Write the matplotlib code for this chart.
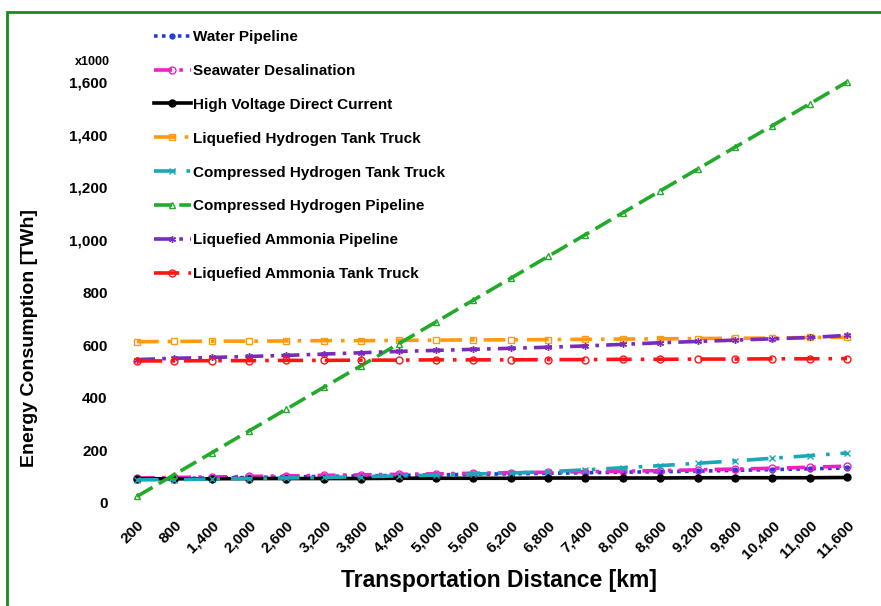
import matplotlib.pyplot as plt
from matplotlib.patches import Rectangle
from matplotlib.ticker import FuncFormatter

plt.rcParams['font.family'] = ['Liberation Sans', 'DejaVu Sans']
plt.rcParams['font.weight'] = 'bold'

# transportation distance [km]
distance = [200, 800, 1400, 2000, 2600, 3200, 3800, 4400, 5000, 5600,
            6200, 6800, 7400, 8000, 8600, 9200, 9800, 10400, 11000, 11600]

# energy consumption [TWh x1000]
water_pipeline = [92, 93, 95, 97, 99, 101, 103, 105, 107, 109,
                  111, 113, 115, 117, 119, 121, 124, 127, 130, 133]
seawater_desal = [95, 97, 99, 101, 103, 105, 107, 109, 111, 113,
                  115, 117, 119, 121, 123, 126, 129, 132, 136, 140]
hvdc = [92, 92, 92, 93, 93, 93, 93, 94, 94, 94,
        94, 95, 95, 95, 95, 96, 96, 96, 96, 97]
lh2_truck = [613, 614, 615, 615, 616, 617, 617, 618, 619, 620,
             620, 621, 622, 623, 624, 625, 626, 627, 629, 630]
ch2_truck = [88, 89, 91, 93, 95, 97, 100, 103, 106, 110,
             114, 119, 126, 134, 142, 151, 160, 170, 180, 190]
ch2_pipeline = [25, 108, 191, 274, 357, 440, 522, 605, 688, 771,
                854, 937, 1020, 1103, 1186, 1269, 1352, 1434, 1517, 1600]
lnh3_pipeline = [545, 550, 553, 557, 561, 566, 571, 576, 580, 584,
                 588, 592, 597, 603, 609, 614, 619, 624, 629, 637]
lnh3_truck = [540, 540, 541, 541, 542, 542, 543, 543, 544, 544,
              544, 545, 545, 546, 546, 547, 547, 548, 548, 549]

series = [
    ("Water Pipeline", water_pipeline, "#1f3fe0", (0, (1, 1.2)), "o", 'full'),
    ("Seawater Desalination", seawater_desal, "#f020c8", (0, (5, 2, 1, 2)), "o", 'none'),
    ("High Voltage Direct Current", hvdc, "#000000", "-", "o", 'full'),
    ("Liquefied Hydrogen Tank Truck", lh2_truck, "#ff9a10", (0, (6, 2.5, 1, 2.5)), "s", 'none'),
    ("Compressed Hydrogen Tank Truck", ch2_truck, "#18a8b8", (0, (6, 3, 1, 3)), "x", 'full'),
    ("Compressed Hydrogen Pipeline", ch2_pipeline, "#22aa2a", (0, (5, 2)), "^", 'none'),
    ("Liquefied Ammonia Pipeline", lnh3_pipeline, "#7a2cb8", (0, (5, 2, 1, 2)), (6, 2, 0), 'full'),
    ("Liquefied Ammonia Tank Truck", lnh3_truck, "#ff1414", (0, (7, 2.5, 1, 2.5)), "o", 'none'),
]

fig = plt.figure(figsize=(8.81, 6.06), dpi=100)
fig.patch.set_facecolor('white')

# green frame (cut off at right and bottom like the source)
fig.patches.append(Rectangle((7 / 881, -0.05), 1.2, 0.05 + (606 - 12) / 606,
                             transform=fig.transFigure, fill=False,
                             edgecolor='#1a8c1a', linewidth=2))

ax = fig.add_axes([127 / 881, 103 / 606, 730 / 881, 421 / 606])

handles = []
for label, vals, color, ls, marker, fill in series:
    ms = 5
    if label == "Water Pipeline":
        ms = 3.5
    h, = ax.plot(distance, vals, color=color, linestyle=ls, linewidth=2.6,
                 marker=marker, markersize=ms, fillstyle=fill,
                 markeredgewidth=1.0, label=label, clip_on=False,
                 dash_capstyle='butt')
    handles.append(h)

ax.set_xlim(40, 11760)
ax.set_ylim(0, 1600)
ax.set_xticks(distance)
ax.set_yticks(range(0, 1601, 200))
ax.xaxis.set_major_formatter(FuncFormatter(lambda v, p: f"{int(v):,}"))
ax.yaxis.set_major_formatter(FuncFormatter(lambda v, p: f"{int(v):,}"))
for s in ax.spines.values():
    s.set_visible(False)
ax.tick_params(axis='both', length=0, labelsize=11)
ax.tick_params(axis='y', pad=14)
ax.tick_params(axis='x', pad=11)
for t in ax.get_xticklabels():
    t.set_rotation(45)
    t.set_ha('right')
    t.set_va('top')
    t.set_rotation_mode('anchor')
    t.set_fontweight('bold')
for t in ax.get_yticklabels():
    t.set_fontweight('bold')

ax.set_xlabel("Transportation Distance [km]", fontsize=16.5, fontweight='bold')
ax.xaxis.set_label_coords((499 - 127) / 730, -(581 - 503) / 421)
ax.xaxis.label.set_va('center')
fig.text(30 / 881, 1 - 338 / 606, "Energy Consumption [TWh]", rotation=90,
         fontsize=14, fontweight='bold', ha='center', va='center')
fig.text(110 / 881, 1 - 62 / 606, "x1000", fontsize=9, fontweight='bold',
         ha='right', va='center')

leg = fig.legend(handles=handles, loc='upper left',
                 bbox_to_anchor=(148 / 881, 1 - 24 / 606), frameon=False,
                 prop={'size': 11, 'weight': 'bold'}, labelspacing=1.3,
                 handlelength=2.4, handletextpad=0.15, borderaxespad=0)

fig.savefig("out.png", dpi=100)
